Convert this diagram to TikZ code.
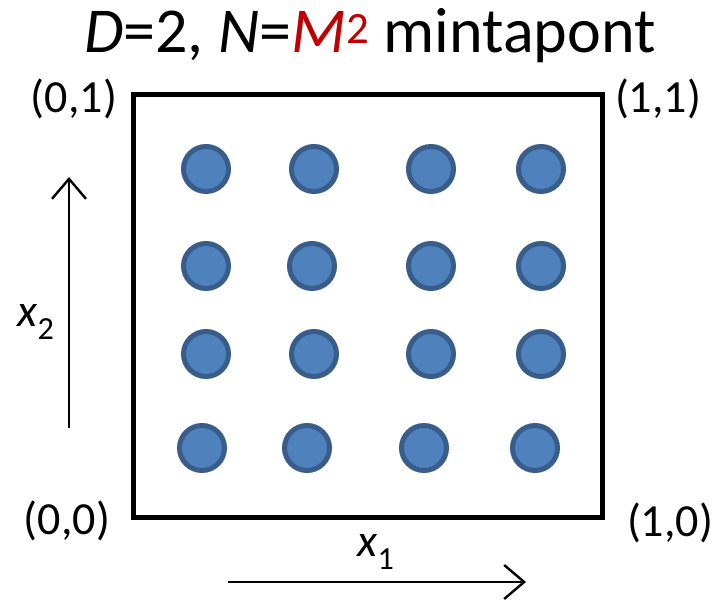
\documentclass[tikz,border=0pt]{standalone}
\usepackage{fontspec}
\setmainfont{Carlito}
\usetikzlibrary{arrows.meta}
\definecolor{dotfill}{HTML}{4F81BD}
\definecolor{dotline}{HTML}{385D8A}
\definecolor{mred}{HTML}{C00000}
\begin{document}
\begin{tikzpicture}[x=1pt,y=-1pt,
  dot/.style={circle,draw=dotline,fill=dotfill,line width=5pt,minimum size=45pt,inner sep=0pt},
  lab/.style={font=\fontsize{46}{50}\selectfont,inner sep=0pt},
  axis/.style={line width=2.4pt,-{Straight Barb[length=20pt,width=34pt,line width=2.4pt]}}]
\useasboundingbox (0,0) rectangle (715,604);
\node[font=\fontsize{64}{70}\selectfont,inner sep=0pt] (title) at (370,36) {\textit{D}=2, \textit{N}=\textcolor{mred}{\textit{M}}\textsuperscript{\textcolor{mred}{2}} mintapont};
\draw[line width=5pt] (133,95) rectangle (602,517);
\node[lab] (l01) at (74,99) {(0,1)};
\node[lab] (l11) at (658,99) {(1,1)};
\node[lab] (l00) at (67,521) {(0,0)};
\node[lab] (l10) at (670,523) {(1,0)};
\foreach \x [count=\i] in {206,314,431,541} \node[dot] (a\i) at (\x,169) {};
\foreach \x [count=\i] in {206,312,431,541} \node[dot] (b\i) at (\x,266) {};
\foreach \x [count=\i] in {206,314,431,541} \node[dot] (c\i) at (\x,354) {};
\foreach \x [count=\i] in {202,307,424,535} \node[dot] (d\i) at (\x,448) {};
\coordinate (v0) at (69,428);
\coordinate (v1) at (69,177);
\draw[axis] (v0) -- (v1);
\coordinate (h0) at (228,582);
\coordinate (h1) at (526,582);
\draw[axis] (h0) -- (h1);
\node[lab] (x2) at (36,322) {\textit{x}\textsubscript{2}};
\node[lab] (x1) at (376,552) {\textit{x}\textsubscript{1}};
\end{tikzpicture}
\end{document}
